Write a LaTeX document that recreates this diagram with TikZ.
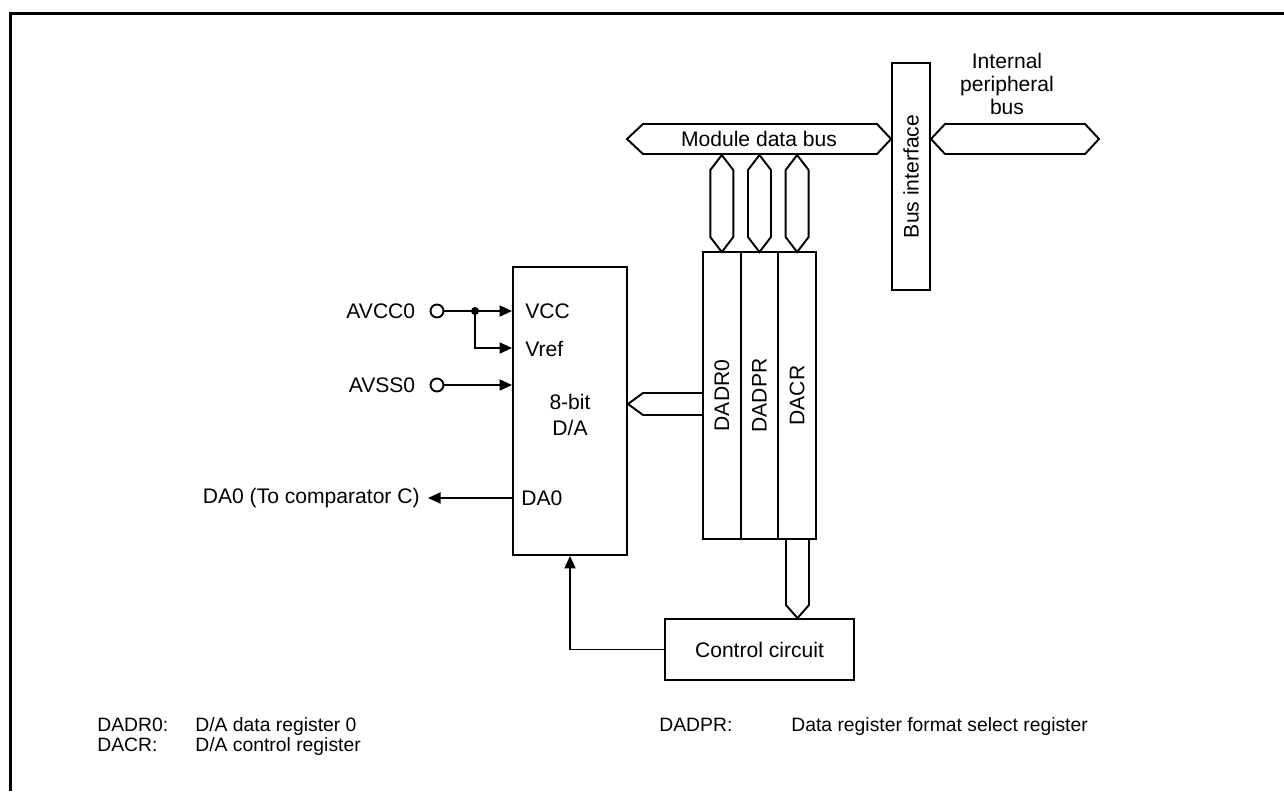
\documentclass[tikz,border=0pt]{standalone}
\usepackage{fontspec}
\setmainfont{Liberation Sans}
\usepackage{tikz}
\usetikzlibrary{arrows.meta, positioning, calc}

\tikzset{
  wire/.style={line width=1.1pt},
  bus/.style={line width=1.1pt, line join=miter},
  block/.style={draw, line width=1.1pt, fill=white, inner sep=0pt},
  reg/.style={block, minimum width=0.7533cm, minimum height=5.74cm, outer sep=0pt},
  lbl/.style={inner sep=0pt, font=\fontsize{12}{13}\selectfont},
  keytext/.style={inner sep=0pt, anchor=base west, font=\fontsize{11}{12}\selectfont},
  pinc/.style={draw, circle, line width=1.1pt, minimum size=0.26cm, inner sep=0pt},
}

\begin{document}
\begin{tikzpicture}[x=0.02cm, y=-0.02cm, >={Triangle[length=0.25cm, width=0.22cm]}]
  \useasboundingbox (0,0) rectangle (1284,791);

  % open frame, top and left only
  \draw[line width=0.06cm] (10.5,791) -- (10.5,13.5) -- (1284,13.5);

  % main blocks
  \node[block, minimum width=2.28cm, minimum height=5.76cm] (da) at (570,411) {};
  \node[reg] (dadr) at (721.8,395.5) {};
  \node[reg, right=0cm of dadr] (dadpr) {};
  \node[reg, right=0cm of dadpr] (dacr) {};
  \node[block, minimum width=0.76cm, minimum height=4.54cm] (bif) at (911,176.5) {};
  \node[block, minimum width=3.78cm, minimum height=1.22cm] (ctrl) at (759.5,649.5) {};

  \node[lbl, rotate=90] at (dadr) {DADR0};
  \node[lbl, rotate=90] at (dadpr) {DADPR};
  \node[lbl, rotate=90] at (dacr) {DACR};
  \node[lbl, rotate=90] at (bif) {Bus interface};
  \node[lbl] at (ctrl) {Control circuit};

  % buses
  \draw[bus] (627,139) -- (643,124) -- (877,124) -- (bif.west |- 0,139) -- (877,154) -- (643,154) -- cycle;
  \node[lbl] (mdb) at (759,139) {Module data bus};
  \draw[bus] (bif.east |- 0,139) -- (945,124) -- (1085,124) -- (1099,139) -- (1085,154) -- (945,154) -- cycle;
  \node[lbl, align=center] (ipb) at (1007,84) {Internal\\peripheral\\bus};
  \foreach \r in {dadr, dadpr, dacr}
    \draw[bus] (\r.north) -- ++(11.5,-15) -- ++(0,-67) -- ++(-11.5,-15)
      -- ++(-11.5,15) -- ++(0,67) -- cycle;
  \draw[bus] (703,393) -- (643,393) -- (628,404) -- (643,415) -- (703,415);
  \draw[bus] (786,539) -- (786,605) -- (ctrl.north -| 797.5,0) -- (809,605) -- (809,539);

  % D/A inner labels
  \node[lbl, anchor=west] (vcc) at (525,311) {VCC};
  \node[lbl, anchor=west] (vref) at (525,349) {Vref};
  \node[lbl, align=center, font=\fontsize{12}{14.8}\selectfont] at (570,415) {8-bit\\D/A};
  \node[lbl, anchor=west] (dapin) at (521,498) {DA0};

  % analog inputs
  \node[pinc] (avcc) at (437,311) {};
  \node[lbl, left=0.28cm of avcc] {AVCC0};
  \node[pinc] (avss) at (437,385) {};
  \node[lbl, left=0.28cm of avss] {AVSS0};
  \coordinate (jn) at (475,311);
  \draw[wire, ->] (avcc) -- (avcc -| da.west);
  \fill (jn) circle (0.08cm);
  \draw[wire, ->] (jn) |- (da.west |- 0,348);
  \draw[wire, ->] (avss) -- (avss -| da.west);

  % output and control
  \node[lbl, anchor=east, inner xsep=0.16cm] (daout) at (428,498) {DA0 (To comparator C)};
  \draw[wire, ->] (da.west |- daout) -- (daout.east);
  \draw[wire, ->] (ctrl.west) -| (da.south);

  % key
  \node[keytext] at (97,731) {DADR0:};
  \node[keytext] at (195,731) {D/A data register 0};
  \node[keytext] at (97,751) {DACR:};
  \node[keytext] at (195,751) {D/A control register};
  \node[keytext] at (659,731) {DADPR:};
  \node[keytext] at (791,731) {Data register format select register};

\end{tikzpicture}
\end{document}
